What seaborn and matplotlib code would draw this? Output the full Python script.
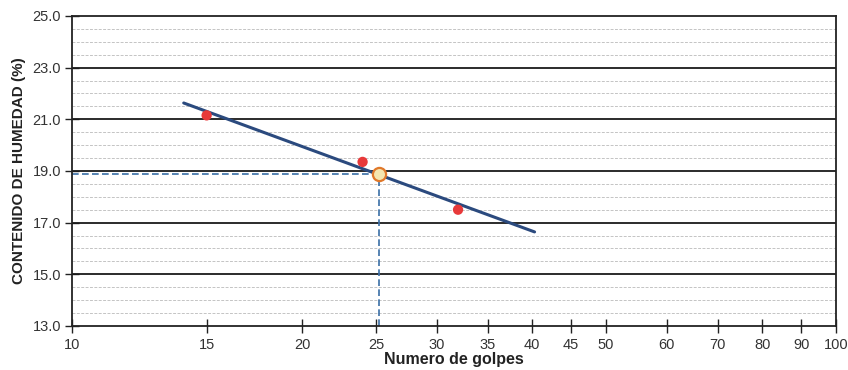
import matplotlib
matplotlib.use("Agg")
import matplotlib.pyplot as plt
import seaborn as sns
import numpy as np
import pandas as pd

# Data
golpes = [15, 24, 32]
humedad = [21.15, 19.35, 17.5]
fit_golpes = [14.0, 40.3]
fit_humedad = [21.63, 16.64]
ll_golpes = 25.2
ll_humedad = 18.88
x_ticks = [10, 15, 20, 25, 30, 35, 40, 45, 50, 60, 70, 80, 90, 100]
y_ticks = [13.0, 15.0, 17.0, 19.0, 21.0, 23.0, 25.0]

sns.set_theme(style="white")
plt.rcParams['font.family'] = ['Liberation Sans', 'DejaVu Sans']

fig = plt.figure(figsize=(8.48, 3.70), dpi=100)
ax = fig.add_axes([0.085, 0.119, 0.901, 0.838])
ax.set_xscale('log')
ax.set_xlim(10, 100)
ax.set_ylim(13, 25)

# grid: minor dotted lines every 0.5, major solid every 2
for yv in np.arange(13.5, 25, 0.5):
    if abs((yv - 13) % 2) < 1e-6:
        continue
    ax.axhline(yv, color='#c4c4c4', lw=0.7, ls=(0, (3, 1.5)), zorder=1)
for yv in y_ticks[1:-1]:
    ax.axhline(yv, color='#1a1a1a', lw=1.3, zorder=1)

# dashed guides to liquid limit
ax.plot([10, ll_golpes], [ll_humedad, ll_humedad], color='#3a6ea5', lw=1.2, ls=(0, (4, 2)), zorder=2)
ax.plot([ll_golpes, ll_golpes], [13, ll_humedad], color='#3a6ea5', lw=1.2, ls=(0, (4, 2)), zorder=2)

fit_df = pd.DataFrame({'g': fit_golpes, 'h': fit_humedad})
sns.lineplot(data=fit_df, x='g', y='h', ax=ax, color='#2b4a7e', lw=2.2, zorder=3)

pts = pd.DataFrame({'g': golpes, 'h': humedad})
sns.scatterplot(data=pts, x='g', y='h', ax=ax, color='#e8393a', s=55, edgecolor='none', zorder=4)

ll = pd.DataFrame({'g': [ll_golpes], 'h': [ll_humedad]})
sns.scatterplot(data=ll, x='g', y='h', ax=ax, color='#f5e6b0', s=90, edgecolor='#e0782a', linewidth=1.6, zorder=5)

ax.set_xticks(x_ticks)
ax.set_xticklabels([str(v) for v in x_ticks])
ax.xaxis.set_minor_locator(matplotlib.ticker.NullLocator())
ax.xaxis.set_minor_formatter(matplotlib.ticker.NullFormatter())
ax.set_yticks(y_ticks)
ax.set_yticklabels([f"{v:.1f}" for v in y_ticks])
ax.tick_params(axis='both', direction='inout', length=10, width=1.0, color='#222222',
               labelsize=10.5, labelcolor='#333333', bottom=True, left=True)
ax.tick_params(axis='x', pad=4)
ax.tick_params(axis='y', pad=3)

for s in ax.spines.values():
    s.set_color('#222222')
    s.set_linewidth(1.3)

ax.set_xlabel('Numero de golpes', fontsize=11.5, fontweight='bold', color='#222222', labelpad=0)
ax.set_ylabel('CONTENIDO DE HUMEDAD (%)', fontsize=11, fontweight='bold', color='#222222', labelpad=5)

fig.savefig('out.png', dpi=100)
